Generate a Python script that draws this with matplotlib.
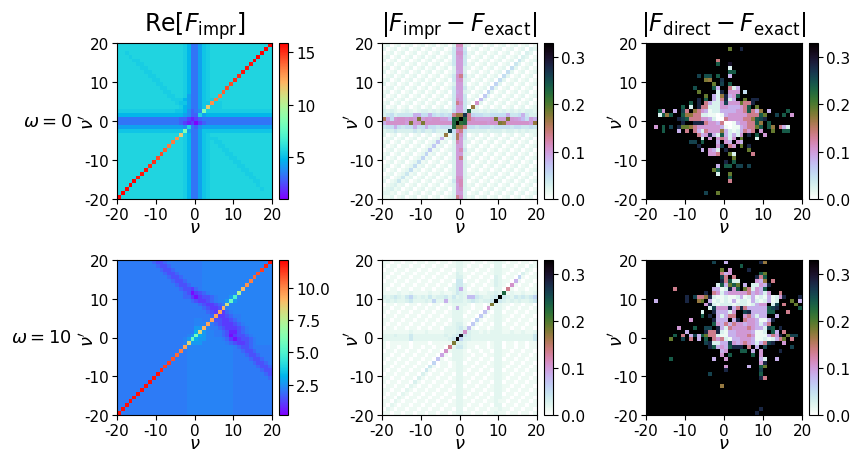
import numpy as np
import matplotlib
matplotlib.use('Agg')
import matplotlib.pyplot as plt

plt.rcParams['axes.unicode_minus'] = False
plt.rcParams['mathtext.fontset'] = 'dejavusans'

# heatmaps, top row first, one letter per cell
re_w0 = [
"cccccccccc cccccccb96 68abcccccc cccccccccw",
"cccccccccc cccccccb96 68abcccccc ccccccccwc",
"ccbccccccc cccccccb96 68abcccccc cccccccwcc",
"cccbcccccc cccccccb96 68abcccccc ccccccwccc",
"ccccbbcccc cccccccb96 68abcccccc cccccwcccc",
"cccccbbccc cccccccb96 68abcccccc ccccvccccc",
"ccccccbbcc cccccccb96 68abcccccc cccvcccccc",
"cccccccbbc cccccccb96 68abcccccc ccvccccccc",
"ccccccccbb cccccccb96 68abcccccc cucccccccc",
"cccccccccb bccccccb96 68abcccccc uccccccccc",
"cccccccccc bbcccccb96 68abccccct cccccccccc",
"cccccccccc cbbccccb96 68abcccctc cccccccccc",
"cccccccccc ccbbcccb96 68abcccscc cccccccccc",
"cccccccccc cccbbccb86 68abccrccc cccccccccc",
"cccccccccc ccccbbb986 68abbrcccc cccccccccc",
"cccccccccc cccccbaa86 68aaqbbccc cccccccccc",
"cccccccccc ccccccb986 68anbbbccc cccccccccc",
"bbbbbbbbbb bbbbbaa975 67hbbbbbbb bbbbbbbbbb",
"9999999999 9999999875 5c89999999 9999999999",
"6666666666 6666665543 4566666666 6666666666",
"6666666666 6666665434 2456666666 6666666666",
"8888888888 88888887c6 5788888888 8888888888",
"aaaaaaaaaa aaaaaaah86 68aaaaaaaa aaaaaaaaaa",
"cccccccccc ccccccnb96 68abcccccc cccccccccc",
"cccccccccc cccccqcb96 68abbbcccc cccccccccc",
"cccccccccc ccccrccb96 68abcbbccc cccccccccc",
"cccccccccc cccrcccb96 68abccbbcc cccccccccc",
"cccccccccc ccsccccb96 68abcccbbc cccccccccc",
"cccccccccc ctcccccb96 68abccccbb cccccccccc",
"cccccccccc tccccccb96 68abcccccb bccccccccc",
"cccccccccu cccccccb96 68abcccccc bbcccccccc",
"ccccccccuc cccccccb96 68abcccccc cbbccccccc",
"cccccccvcc cccccccb96 68abcccccc ccbbcccccc",
"ccccccvccc cccccccb96 68abcccccc cccbbccccc",
"cccccvcccc cccccccb96 68abcccccc ccccbbcccc",
"ccccwccccc cccccccb96 68abcccccc cccccbbccc",
"cccwcccccc cccccccb96 68abcccccc ccccccbccc",
"ccwccccccc cccccccb96 68abcccccc cccccccbcc",
"cwcccccccc cccccccb96 68abcccccc cccccccccc",
"wccccccccc cccccccb96 68abcccccc cccccccccc",
]
re_w10 = [
"6666666665 4456666666 6677777777 777777777y",
"6666666666 5445666666 6677777777 77777777x7",
"6666666666 6544566666 6677777777 7777777w77",
"6666666666 6654456666 6677777777 777777v777",
"6666666666 6665445666 6677777777 77777u7777",
"6666666666 6666544566 6677777777 7777t77777",
"6666666666 6666654456 6677777777 777s777777",
"6666666666 6666665443 5677777777 77q7777777",
"6666666666 6666666541 3456777777 7l77777777",
"6666666666 6666666553 1344567778 e777777777",
"6666666666 6666666665 433456778g 8777777777",
"6666666666 6666666666 65433456n7 7777777777",
"6666666666 6666666666 6654334q67 7777777777",
"6666666666 6666666666 666543r356 7777777777",
"6666666666 6666666666 66665r3345 6677777777",
"6666666666 6666666666 7766r44334 5677777777",
"6666666666 6666666666 777r654333 4567777777",
"6666666666 6666666666 88q7665433 3456777777",
"6666666666 6666666666 9o87766542 2456777777",
"6666666666 6666666678 h987766541 3445677777",
"6666666666 666666678g 9887777653 1344567777",
"6666666666 66666667o8 8877777765 4334567777",
"6666666666 6666666r77 7777777777 6544566666",
"6666666666 666666t677 7777777777 6654456666",
"6666666666 66666u6677 7777777777 6665445666",
"6666666666 6666v66677 7777777777 6666544566",
"6666666666 666w666677 7777777777 6666654456",
"6666666666 66w6666677 7777777777 6666665445",
"6666666666 6x66666677 7777777777 6666666544",
"6666666666 y666666677 7777777777 6666666654",
"666666666y 6666666677 7777777777 6666666665",
"66666666y6 6666666677 7777777777 6666666666",
"6666666y66 6666666677 7777777777 6666666666",
"666666y666 6666666677 7777777777 6666666666",
"66666y6666 6666666677 7777777777 6666666666",
"6666y66666 6666666677 7777777777 6666666666",
"666y666666 6666666677 7777777777 6666666666",
"66y6666666 6666666677 7777777777 6666666666",
"6y66666666 6666666677 7777777777 6666666666",
"y666666666 6666666677 7777777777 6666666666",
]
impr_w0 = [
"1201201201 201201203f f320120120 1201201201",
"2012012012 012012014c c401201201 2012012032",
"0120120120 120120124e e512012012 0120120320",
"1201201201 201201204c d420120120 1201203201",
"2012012012 012012014c c401201201 2012042012",
"0120120120 120120124c c412012012 0120420120",
"1201201201 201201203c c320120120 1205201201",
"2012012012 012012013b c301201201 2052012012",
"0120120120 120120124e g412012012 0520120120",
"1201201201 201201204d e320120120 5201201201",
"2012012012 012012013c c301201206 2012012012",
"0120120120 120120124c c412012062 0120120120",
"1201201201 201201204b c320120620 1201201201",
"2012012012 012012014c c401207201 2012012012",
"0120120120 120120124e c412092012 0120120120",
"1201201201 201201204g e420e20120 1201201201",
"2012012012 012012014c c40j201201 2012012012",
"3232123212 332323325c c5n3323233 2323232332",
"34534444aa 55a54545gj jrg6554455 55a445a433",
"ib5deedeck cedeecc9nm xngeccccdk cckdcb95ca",
"aeeeeeckde keeeeeeenx mneeeeedee kjeeeeeecj",
"455a5455a5 5a554555nj jg55455545 5554554454",
"2334333343 4334333q5f g533333233 3233232322",
"2012012012 012012j14i e401201201 2012012012",
"0120120120 12012a124i c412012012 0120120120",
"1201201201 201281203f c320120120 1201201201",
"2012012012 012712013c c301201201 2012012012",
"0120120120 127120123c f412012012 0120120120",
"1201201201 261201203c c320120120 1201201201",
"2012012012 612012013c g301201201 2012012012",
"0120120125 120120123c c312012012 0120120120",
"1201201251 201201203c c320120120 1201201201",
"2012012512 012012013c c301201201 2012012012",
"0120124120 120120123c c312012012 0120120120",
"1201241201 201201203e e320120120 1201201201",
"2012412012 012012014e f301201201 2012012012",
"0123120120 120120123c f312012012 0120120120",
"1231201201 201201203c e320120120 1201201201",
"2212012012 012012013c c301201201 2012012012",
"1120120120 120120123g e312012012 0120120120",
]
impr_w10 = [
"1101101101 1011011013 3110110113 3101101101",
"1011011011 0110110113 3101101103 3011011031",
"0110110110 1101101103 3011011013 3110110310",
"1101101101 1011011014 3110110113 3101104101",
"1011011011 0110110114 4101101104 3011061011",
"0110110110 1101101105 5011011014 3110a10110",
"1101101101 1011011035 5210110114 310e101101",
"1011011011 0110110235 a201101103 30g1011011",
"1111211211 1121121135 4211211234 3n12112112",
"4345435643 4353445353 4399543345 x543545456",
"3434334533 343633a344 434543445x 5434343345",
"0110110110 1101101123 32101101k3 3110110110",
"1101101101 101101102a 3110110d13 3101101101",
"1011011011 0110110123 3101108103 3011011011",
"0110110110 1101101133 3011071013 3110110110",
"1101101101 1011011023 3110610113 3101101101",
"1011011011 0110110124 4107101103 3011011011",
"0110110110 1101102234 5391011012 2110110110",
"1111111211 1211112234 4e42212123 3112112112",
"3334333533 3333234345 u543333333 3333333335",
"3333333533 333333345w 6443333333 3333333335",
"1011111011 11011111k4 4211111012 2011011011",
"1011011011 0110110g35 5211011012 2011011011",
"0110110110 110110e123 3101101102 2110110110",
"1101101101 10110b1023 3110110112 2101101101",
"1011011011 0110810123 3101101102 2011011011",
"0110110110 1106011013 3011011012 3110110110",
"1101101101 1051011013 3110110113 3101101101",
"1011011011 0510110112 2101101102 3011011011",
"0110110110 4101101102 3011011013 2110110110",
"1101101104 1011011013 3110110113 3101101101",
"1011011041 0110110112 2101101103 3011011011",
"0110110310 1101101102 2011011012 2110110110",
"1101103101 1011011013 3110110112 2101101101",
"1011031011 0110110113 3101101103 3011011011",
"0110310110 1101101103 3011011012 2110110110",
"1102101101 1011011012 2110110112 1101101101",
"1021011011 0110110113 3101101102 2011011011",
"0210110110 1101101103 3011011011 2110110110",
"1101101101 1011011013 3110110112 1101101101",
]
direct_w0 = [
"zzzzzzzzzz zzzzzzzzzz zzzzzzzzzz zzzzzzzzzz",
"zzzzzzzzzz zzzzzzzzzz zlzzszzzzz zzzzzzzzzz",
"zzzzzzzzzz zzzzzzzzzz zzzzzzzzzz zzzzzzzzzz",
"zzzzzzzzzz zzzzzzzzzz zzzzzzzzzz zzzzzzzzzz",
"zzzzzzzzzz zzzzzzzzhz zzzzzzzzzz zzzzzzzzzz",
"zzzzzzzzzz zzzzzzzzoz zuzzzzzzzz zzzzzzzzzz",
"zzzzzzzzzz zzzzzzzzzz z3zzzzzzzz zzzzzzzzzz",
"zzzzzzzzzz zzzzzzzzzz zoozzzzzzz zzzzzzzzzz",
"zzzzzzzzzz zzzqzppzoz zazzzzzzzz zzzzzzzzzz",
"zzzzzzzzzz zzzzzkjzzr zzzzzzzzzz zzzzzzzzzz",
"zzzzzzzzzz zzzzzzzlzq zozzzzzzzz zzzzzzzzzz",
"zzzzzzzzzz zzpzzzzoaz zg3azzzzzz zzzzzzzzzz",
"zzzzzzzzzz zzzlzzzz3s zdddz5zzzz zzzzzzzzzz",
"zzzzzzzzzz zzzzzlza3j sadozzzzzz zzzzzzzzzz",
"zzzzzzzzzz zzzszoza3g s3azzlzssz zzzzzzzzzz",
"zzzzzzzzzz zozszga33d qdddlggszz zzzzzzzzzz",
"zzzzzzzzzo z3zsgg333d daaadgozlz zzzzzzzzzz",
"zzzodzzazq gzjgda133a aaaddgogaj zazzzzozzz",
"zzz3ojozzo jjgg331101 adddddgggo lzzqzozdzz",
"zzzzzzzzsq ogggdda300 gddddggjoq szzzzzzzzz",
"zzzzzzzzzs zzsssgddag 001addggoj zozzzzzzzz",
"zzdzozqzsl ljgdddddda 1011adgglo zojzga3zzz",
"zzzzozzzaz gzga3gdddj a313agdgzd zzlzzoozzz",
"zzzzzzzzzz zzzgadsa3o a3a3dzszoz dzzzzzzzzz",
"zzzzzzzzzz zzzz3zdzdg d3dzlzzz3z zzzzzzzzzz",
"zzzzzzzzzz zqqzozzzaz dazdazzzzz zzzzzzzzzz",
"zzzzzzzzzz zzzszzzzdq zgdzlzszzz zzzzzzzzzz",
"zzzzzzzzzz zzzzazda3z szzzzzlzzz zzzzzzzzzz",
"zzzzzzzzzz zzzzzzddgz zl3zzzzgzz zzzzzzzzzz",
"zzzzzzzzzz zzzzzzzzzz zzlzzzzzzz zzzzzzzzzz",
"zzzzzzzzzz zzzzzzzzzz szozzzzzzz zzzzzzzzzz",
"zzzzzzzzzz zzzzzzzzaz oozqqzqzzz zzzzzzzzzz",
"zzzzzzzzzz zzzzzzzloz zzzzzzzzzz zzzzzzzzzz",
"zzzzzzzzzz zzzzzzzz3z zlzzzzzzzz zzzzzzzzzz",
"zzzzzzzzzz zzzzzzzzzz zozzzzzzzz zzzzzzzzzz",
"zzzzzzzzzz zzzzzzzzzz zgzzzzzzzz zzzzzzzzzz",
"zzzzzzzzzz zzzzzzzzzz zzzzzzzzzz zzzzzzzzzz",
"zzzzzzzzzz zzzzzzzzzz zzzzzzzzzz zzzzzzzzzz",
"zzzzzzzzzz zzzzzqzzlz zzzzzzzzzz zzzzzzzzzz",
"zzzzzzzzzz zzzzzzzzzz zzzzzzzzzz zzzzzzzzzz",
]
direct_w10 = [
"zzzzzzzzzz zzzzzzzqzz azzzzzzzzs jzzzzzzzzz",
"zzzzzzzzzz zzzzzzzzzz zzzzozzzzz zzzzzzzzzz",
"zzzzzzzzzz zzzzzzzzzl zdzzzzszzz zzzzzzzzzz",
"zzzzzzzzzz zzzzzzzzzg adzzzzzzzo lzzzzzzzzz",
"zzzzzzzzzz zzzzzzzzzq gzgzzzzzsg ozzzzzzzzz",
"zzzzzzzzzz zzzzzzzzzs go33zzzzda jzgzzzzzzz",
"zzzzzzzzzz zzzzzzzz3o alolzaz33d aszzzzzzzz",
"zzzzzzzgzz zzzzzzzaa1 3sdozlg3da ozzzzzzzzz",
"zzzzzzzzzz zzzzzszgd3 adddddgada 3dzzgzzzzz",
"zzzzzzzzzz szqggjs311 3113a13a13 1a13dszzzs",
"zzazzzzzzz szzjlza131 31a1331a31 3a13zzzlza",
"zzzzzzzzzz zzzzzds313 33133313ad dz3qzgzzlz",
"zzzzzzzzzz zzzzzz3qdd dsagsgaaaa aoqszzzzzo",
"zzzzzzzzzz zzzz3zzsaa a3dzzqsaaa aoozzzgzzz",
"zzzzzzzzzz zzzzozsza3 aggzzdga3a azzazzzzzz",
"zzzzzzzzzz zdzzzzzsaa azaszgdda1 1aszzzzzzz",
"zzzzzzzzzz zzzzzzzoda gagddadda3 agzzzzzzzz",
"zzzzzzzzdz zzozzqqzsa 3gddddgdaa 3qozszzzzz",
"zzzzzzzzzz azzzzsggs3 1aadddda11 3zoazgzzzz",
"zzzzzzzozg zaqaolgg31 1aadddgd11 1agdszlqqz",
"zzzzzzlzzq zgzazozgdg 31aaddda11 313aglzgzz",
"zzzzzzzzzz zzzzzqs33a aqdadgda3a gqszzdzzzz",
"zzzzzzzzzz zzzzzzsoad aossszgzaz qzzzzzzqzz",
"zzzzzzzzzz zzzzzzzzza dzzzoozazd zzzzszzzzz",
"zzzzzzzzzz zzzzzzzzzd zozzzzzozd zzzzzzzzzz",
"zzzzzzozzz zzzzzzzazz dzzzzzzzza 3zzazzzzzz",
"zzzzzzzzzz zzzzzzzzzz zzzzzzzzzd szzzzzzzzz",
"zzzzzzzzzz zzzzzzzzzz dzzzzzazzo lzzzzzzzzz",
"zzzzzzzzzz zzzzzzzzzz szzzzzzzzq zzzzzzzzzz",
"zzzzzzzzzz zzzzzzqzzz zzzzzzzzzo zzzzzzzzzz",
"zzzzzzzzzz zzzzzzzzzz zzzzzzzzzs gzzzzzzzzz",
"zzzzzzzzzz zzzzzzzzzz zzzzzzzzzz zzzzzzzzzz",
"zzzzzzzzzz zzzzzzzzzj zzzzzzzzzz zzzzzzzzzz",
"zzzzzzzzzz zzzzzzzzzz zzzzzzzzzz zzzzzzzzzz",
"zzzzzzzzzz zzzzzzzzzz zzzzzzzzzz zzzzzzzzzz",
"zzzzzzzzzz zzzzzzzzzz zzzzzzzzzz zzzzzzzzzz",
"zzzzzzzzzz zzzzzzzzzz zzzzzzzzzz zzzzzzzzzz",
"zzzzzzzzzz zzzzzzzzzz zzzzzzzzzz zzzzzzzzzz",
"zzzzzzzzzz zzzzzzzzzz zzzzzzzzzs zzzzzzzzzz",
"zzzzzzzzzz zzzzzzzzzz zzzzzzzzsz zzzzzzzzzz",
]

# what each letter stands for, other letters are code * scale
levels_re0 = {'2': 1.1, '3': 1.6, '4': 2.2, '5': 2.9, '6': 3.3, '7': 3.8, '8': 4.3, '9': 4.8,
              'a': 5.2, 'b': 5.45, 'c': 5.7}
levels_re10 = {'6': 2.1, '7': 2.25, '8': 2.6, '9': 3.0}
levels_diff = {'1': .012, '2': .02, '3': .028, '4': .04, '5': .05, '6': .058, '7': .065,
               '8': .07, '9': .075, 'a': .085, 'b': .092, 'c': .098, 'd': .102, 'e': .108,
               'f': .115, 'g': .135, 'h': .14, 'i': .155, 'j': .17, 'k': .18, 'l': .19}
levels_diff_w10 = dict(levels_diff, **{'3': .02, '4': .028, '5': .038})

ticks = [-20, -10, 0, 10, 20]
titles = [r'$\mathrm{Re}[F_{\mathrm{impr}}]$',
          r'$|F_{\mathrm{impr}}-F_{\mathrm{exact}}|$',
          r'$|F_{\mathrm{direct}}-F_{\mathrm{exact}}|$']
row_labels = [r'$\omega=0$', r'$\omega=10$']


def decode(rows, scale, levels):
    out = []
    for r in rows:
        r = r.replace(' ', '')
        out.append([levels.get(c, int(c, 36) * scale) for c in r])
    return np.array(out)


W, H = 851, 452


def px_axes(x0, x1, y0, y1):
    return fig.add_axes([x0 / W, 1 - y1 / H, (x1 - x0) / W, (y1 - y0) / H])


panels = [
    (re_w0, 0.5, levels_re0, 'rainbow', 1.0, 15.9, 117, 272, 44, 200),
    (impr_w0, 0.01, levels_diff, 'cubehelix_r', 0, 0.33, 382, 537, 44, 200),
    (direct_w0, 0.01, levels_diff, 'cubehelix_r', 0, 0.33, 646, 802, 44, 200),
    (re_w10, 0.35, levels_re10, 'rainbow', 0.15, 12.15, 117, 272, 261, 416),
    (impr_w10, 0.01, levels_diff_w10, 'cubehelix_r', 0, 0.33, 382, 537, 261, 416),
    (direct_w10, 0.01, levels_diff, 'cubehelix_r', 0, 0.33, 646, 802, 261, 416),
]

fig = plt.figure(figsize=(8.51, 4.52), dpi=100)
for i, (rows, scale, levels, cmap, vmin, vmax, x0, x1, y0, y1) in enumerate(panels):
    ax = px_axes(x0, x1, y0, y1)
    im = ax.imshow(decode(rows, scale, levels), cmap=cmap, vmin=vmin, vmax=vmax, origin='upper',
                   extent=[-20, 20, -20, 20], aspect='auto', interpolation='nearest')
    ax.set_xticks(ticks)
    ax.set_yticks(ticks)
    ax.tick_params(labelsize=11, length=3.5, pad=2.5)
    ax.set_xlabel(r'$\nu$', fontsize=13, labelpad=-3)
    ax.set_ylabel(r"$\nu'$", fontsize=13, labelpad=-10)
    if i < 3:
        ax.set_title(titles[i], fontsize=17, pad=9)
    cax = px_axes(x1 + 7, x1 + 16, y0, y1)
    cb = fig.colorbar(im, cax=cax)
    cb.ax.tick_params(labelsize=11, length=3.5, pad=2.5)
    if i == 0:
        cb.set_ticks([5, 10, 15])

fig.text(72 / W, 1 - 122 / H, row_labels[0], fontsize=13, ha='right', va='center')
fig.text(72 / W, 1 - 338 / H, row_labels[1], fontsize=13, ha='right', va='center')

fig.savefig('out.png', dpi=100)
